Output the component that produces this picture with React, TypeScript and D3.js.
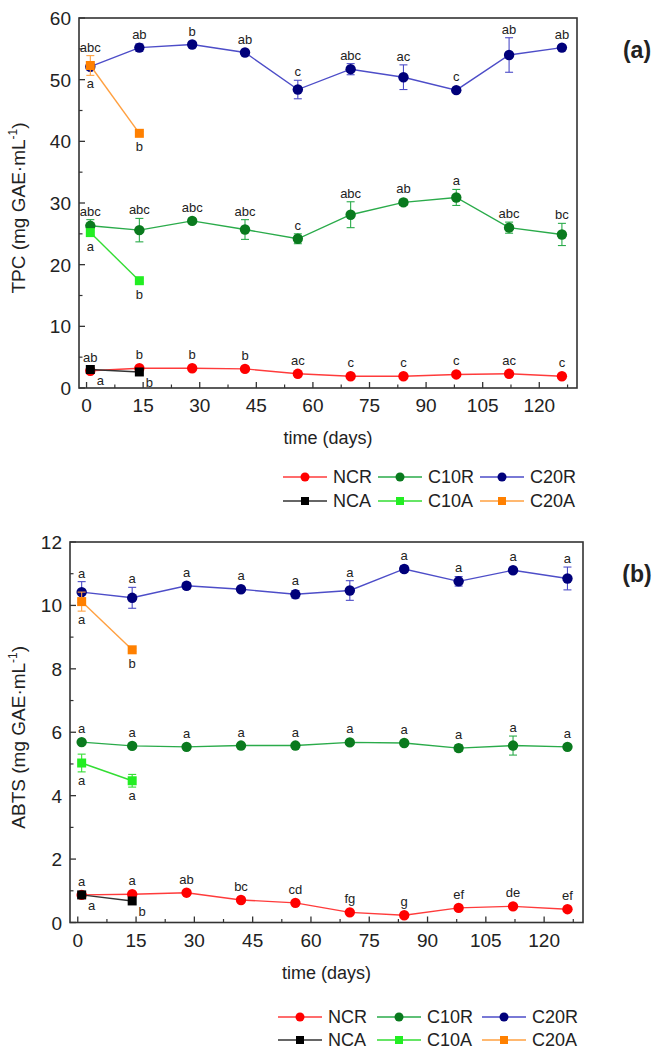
import * as React from 'react';
import * as d3 from 'd3';

// sampling days
const days = [1, 14, 28, 42, 56, 70, 84, 98, 112, 126];
const daysA = [1, 14];

const seriesNames = ['NCR', 'C10R', 'C20R', 'NCA', 'C10A', 'C20A'];

// TPC (mg GAE/mL)
const tpcNCR = [2.8, 3.2, 3.2, 3.1, 2.3, 1.9, 1.9, 2.2, 2.3, 1.9];
const tpcNCRsd = [0.15, 0.15, 0.15, 0.15, 0.15, 0.1, 0.1, 0.15, 0.15, 0.1];
const tpcNCRlet = ['ab', 'b', 'b', 'b', 'ac', 'c', 'c', 'c', 'ac', 'c'];
const tpcC10R = [26.3, 25.6, 27.1, 25.7, 24.2, 28.1, 30.1, 30.9, 26.0, 24.9];
const tpcC10Rsd = [1.0, 1.9, 0.4, 1.6, 0.8, 2.1, 0.5, 1.3, 0.9, 1.8];
const tpcC10Rlet = ['abc', 'abc', 'abc', 'abc', 'c', 'abc', 'ab', 'a', 'abc', 'bc'];
const tpcC20R = [52.1, 55.2, 55.7, 54.4, 48.4, 51.7, 50.4, 48.3, 54.0, 55.2];
const tpcC20Rsd = [0.5, 0.6, 0.4, 0.3, 1.5, 0.9, 2.0, 0.3, 2.8, 0.3];
const tpcC20Rlet = ['abc', 'ab', 'b', 'ab', 'c', 'abc', 'ac', 'c', 'ab', 'ab'];
const tpcNCA = [3.0, 2.6];
const tpcNCAsd = [0.1, 0.1];
const tpcNCAlet = ['a', 'b'];
const tpcC10A = [25.2, 17.4];
const tpcC10Asd = [0.4, 0.3];
const tpcC10Alet = ['a', 'b'];
const tpcC20A = [52.3, 41.3];
const tpcC20Asd = [1.6, 0.3];
const tpcC20Alet = ['a', 'b'];

// ABTS (mg GAE/mL)
const abtsNCR = [0.87, 0.89, 0.94, 0.71, 0.62, 0.32, 0.23, 0.46, 0.51, 0.42];
const abtsNCRsd = [0.03, 0.03, 0.03, 0.03, 0.03, 0.03, 0.03, 0.03, 0.03, 0.03];
const abtsNCRlet = ['a', 'a', 'ab', 'bc', 'cd', 'fg', 'g', 'ef', 'de', 'ef'];
const abtsC10R = [5.69, 5.57, 5.54, 5.58, 5.58, 5.68, 5.66, 5.50, 5.58, 5.54];
const abtsC10Rsd = [0.05, 0.05, 0.05, 0.05, 0.05, 0.05, 0.05, 0.1, 0.3, 0.06];
const abtsC10Rlet = ['a', 'a', 'a', 'a', 'a', 'a', 'a', 'a', 'a', 'a'];
const abtsC20R = [10.42, 10.24, 10.62, 10.51, 10.35, 10.47, 11.15, 10.76, 11.11, 10.85];
const abtsC20Rsd = [0.33, 0.33, 0.1, 0.06, 0.12, 0.31, 0.1, 0.15, 0.06, 0.36];
const abtsC20Rlet = ['a', 'a', 'a', 'a', 'a', 'a', 'a', 'a', 'a', 'a'];
const abtsNCA = [0.87, 0.68];
const abtsNCAsd = [0.03, 0.03];
const abtsNCAlet = ['a', 'b'];
const abtsC10A = [5.03, 4.47];
const abtsC10Asd = [0.28, 0.2];
const abtsC10Alet = ['a', 'a'];
const abtsC20A = [10.12, 8.6];
const abtsC20Asd = [0.3, 0.05];
const abtsC20Alet = ['a', 'b'];

const FONT = '"Liberation Sans", Arial, sans-serif';

const style: Record<string, { marker: string; line: string; shape: 'circle' | 'square'; pos: 'above' | 'below' | 'right' }> = {
    NCR: { marker: '#ff0000', line: '#ff3b3b', shape: 'circle', pos: 'above' },
    C10R: { marker: '#0a7a1e', line: '#2aab4a', shape: 'circle', pos: 'above' },
    C20R: { marker: '#00007a', line: '#4d4dc8', shape: 'circle', pos: 'above' },
    NCA: { marker: '#000000', line: '#333333', shape: 'square', pos: 'right' },
    C10A: { marker: '#22ee22', line: '#33dd33', shape: 'square', pos: 'below' },
    C20A: { marker: '#ff8000', line: '#ffa040', shape: 'square', pos: 'below' },
};

type Series = { name: string; x: number[]; y: number[]; sd: number[]; lab: string[] };

const tpcSeries: Series[] = [
    { name: 'NCR', x: days, y: tpcNCR, sd: tpcNCRsd, lab: tpcNCRlet },
    { name: 'C10R', x: days, y: tpcC10R, sd: tpcC10Rsd, lab: tpcC10Rlet },
    { name: 'C20R', x: days, y: tpcC20R, sd: tpcC20Rsd, lab: tpcC20Rlet },
    { name: 'NCA', x: daysA, y: tpcNCA, sd: tpcNCAsd, lab: tpcNCAlet },
    { name: 'C10A', x: daysA, y: tpcC10A, sd: tpcC10Asd, lab: tpcC10Alet },
    { name: 'C20A', x: daysA, y: tpcC20A, sd: tpcC20Asd, lab: tpcC20Alet },
];

const abtsSeries: Series[] = [
    { name: 'NCR', x: days, y: abtsNCR, sd: abtsNCRsd, lab: abtsNCRlet },
    { name: 'C10R', x: days, y: abtsC10R, sd: abtsC10Rsd, lab: abtsC10Rlet },
    { name: 'C20R', x: days, y: abtsC20R, sd: abtsC20Rsd, lab: abtsC20Rlet },
    { name: 'NCA', x: daysA, y: abtsNCA, sd: abtsNCAsd, lab: abtsNCAlet },
    { name: 'C10A', x: daysA, y: abtsC10A, sd: abtsC10Asd, lab: abtsC10Alet },
    { name: 'C20A', x: daysA, y: abtsC20A, sd: abtsC20Asd, lab: abtsC20Alet },
];

interface PanelCfg {
    left: number; right: number; top: number; bottom: number;
    yMax: number; yStep: number;
    yTitle: string; tag: string;
    series: Series[];
    legendX: number[]; legendY: number[];
}

const panels: PanelCfg[] = [
    {
        left: 79, right: 577, top: 18, bottom: 388, yMax: 60, yStep: 10,
        yTitle: 'TPC', tag: '(a)', series: tpcSeries,
        legendX: [283, 378, 480], legendY: [483, 507],
    },
    {
        left: 70, right: 583, top: 542, bottom: 922.5, yMax: 12, yStep: 2,
        yTitle: 'ABTS', tag: '(b)', series: abtsSeries,
        legendX: [278, 377, 482], legendY: [1023, 1046],
    },
];

function drawPanel(root: d3.Selection<SVGSVGElement, unknown, null, undefined>, p: PanelCfg) {
    const g = root.append('g');
    const x = d3.scaleLinear().domain([-2, 130]).range([p.left, p.right]);
    const y = d3.scaleLinear().domain([0, p.yMax]).range([p.bottom, p.top]);

    // frame
    g.append('rect')
        .attr('x', p.left).attr('y', p.top)
        .attr('width', p.right - p.left).attr('height', p.bottom - p.top)
        .attr('fill', 'none').attr('stroke', '#333').attr('stroke-width', 1.6);

    // y ticks (inward)
    const yMajor = d3.range(0, p.yMax + 0.001, p.yStep);
    const yMinor = d3.range(p.yStep / 2, p.yMax, p.yStep);
    yMajor.forEach(v => {
        g.append('line').attr('x1', p.left).attr('x2', p.left + 6)
            .attr('y1', y(v)).attr('y2', y(v)).attr('stroke', '#333').attr('stroke-width', 1.3);
        g.append('text').attr('x', p.left - 8).attr('y', y(v) + 7)
            .attr('text-anchor', 'end').attr('font-size', 19).attr('font-family', FONT)
            .attr('fill', '#222').text(d3.format('d')(v));
    });
    yMinor.forEach(v => {
        g.append('line').attr('x1', p.left).attr('x2', p.left + 3.5)
            .attr('y1', y(v)).attr('y2', y(v)).attr('stroke', '#333').attr('stroke-width', 1.2);
    });

    // x ticks (inward)
    d3.range(0, 121, 15).forEach(v => {
        g.append('line').attr('x1', x(v)).attr('x2', x(v))
            .attr('y1', p.bottom).attr('y2', p.bottom - 6).attr('stroke', '#333').attr('stroke-width', 1.3);
        g.append('text').attr('x', x(v)).attr('y', p.bottom + 24)
            .attr('text-anchor', 'middle').attr('font-size', 19).attr('font-family', FONT)
            .attr('fill', '#222').text(v);
    });
    d3.range(7.5, 130, 15).forEach(v => {
        g.append('line').attr('x1', x(v)).attr('x2', x(v))
            .attr('y1', p.bottom).attr('y2', p.bottom - 3.5).attr('stroke', '#333').attr('stroke-width', 1.2);
    });

    // axis titles
    g.append('text').attr('x', (p.left + p.right) / 2).attr('y', p.bottom + 56)
        .attr('text-anchor', 'middle').attr('font-size', 18).attr('font-family', FONT)
        .attr('fill', '#222').text('time (days)');

    const yt = g.append('text')
        .attr('transform', `translate(25,${(p.top + p.bottom) / 2 + 5}) rotate(-90)`)
        .attr('text-anchor', 'middle').attr('font-size', 19).attr('font-family', FONT).attr('fill', '#222');
    yt.append('tspan').text(`${p.yTitle} (mg GAE·mL`);
    yt.append('tspan').attr('font-size', 12).attr('dy', -8).text('-1');
    yt.append('tspan').attr('dy', 8).text(')');

    g.append('text').attr('x', 637).attr('y', p.top + 40)
        .attr('text-anchor', 'middle').attr('font-size', 23).attr('font-weight', 'bold')
        .attr('font-family', FONT).attr('fill', '#222').text(p.tag);

    const line = d3.line<[number, number]>().x(d => x(d[0])).y(d => y(d[1]));

    // pixel extents of every point, used to place the letters clear of bars
    const pts = p.series.flatMap(s => s.x.map((d, i) => ({
        day: d, py: y(s.y[i]), top: y(s.y[i] + s.sd[i]), bot: y(s.y[i] - s.sd[i]),
    })));

    p.series.forEach(s => {
        const st = style[s.name];
        const data = s.x.map((d, i) => [d, s.y[i]] as [number, number]);
        g.append('path').attr('d', line(data)!).attr('fill', 'none')
            .attr('stroke', st.line).attr('stroke-width', 1.4);

        s.x.forEach((d, i) => {
            const cx = x(d);
            const y0 = y(s.y[i] - s.sd[i]);
            const y1 = y(s.y[i] + s.sd[i]);
            if (y0 - y1 > 2) {
                const eg = g.append('g').attr('stroke', st.line).attr('stroke-width', 1.1);
                eg.append('line').attr('x1', cx).attr('x2', cx).attr('y1', y0).attr('y2', y1);
                eg.append('line').attr('x1', cx - 4).attr('x2', cx + 4).attr('y1', y0).attr('y2', y0);
                eg.append('line').attr('x1', cx - 4).attr('x2', cx + 4).attr('y1', y1).attr('y2', y1);
            }
        });

        s.x.forEach((d, i) => {
            const cx = x(d), cy = y(s.y[i]);
            if (st.shape === 'circle') {
                g.append('circle').attr('cx', cx).attr('cy', cy).attr('r', 5.2).attr('fill', st.marker);
            } else {
                g.append('rect').attr('x', cx - 4.5).attr('y', cy - 4.5)
                    .attr('width', 9).attr('height', 9).attr('fill', st.marker);
            }
        });

        s.x.forEach((d, i) => {
            const cx = x(d), cy = y(s.y[i]);
            const near = pts.filter(q => q.day === d && Math.abs(q.py - cy) < 20);
            let tx = cx, ty = cy;
            if (st.pos === 'above') {
                ty = Math.min(d3.min(near, q => q.top)!, cy - 5) - 4;
            } else if (st.pos === 'below') {
                ty = Math.max(d3.max(near, q => q.bot)!, cy + 5) + 13;
            } else {
                tx = cx + 10; ty = cy + 15;
            }
            g.append('text').attr('x', tx).attr('y', ty)
                .attr('text-anchor', 'middle').attr('font-size', 13).attr('font-family', FONT)
                .attr('fill', '#222').text(s.lab[i]);
        });
    });

    // legend, two rows of three
    seriesNames.forEach((name, k) => {
        const st = style[name];
        const lx = p.legendX[k % 3];
        const ly = p.legendY[Math.floor(k / 3)];
        const cy = ly - 6;
        g.append('line').attr('x1', lx).attr('x2', lx + 44).attr('y1', cy).attr('y2', cy)
            .attr('stroke', st.line).attr('stroke-width', 1.4);
        if (st.shape === 'circle') {
            g.append('circle').attr('cx', lx + 22).attr('cy', cy).attr('r', 4.5).attr('fill', st.marker);
        } else {
            g.append('rect').attr('x', lx + 18).attr('y', cy - 4).attr('width', 8).attr('height', 8).attr('fill', st.marker);
        }
        g.append('text').attr('x', lx + 50).attr('y', ly)
            .attr('font-size', 18).attr('font-family', FONT).attr('fill', '#222').text(name);
    });
}

const App: React.FC = () => {
    const ref = React.useRef<SVGSVGElement>(null);

    React.useEffect(() => {
        document.body.style.margin = '0';
        const svg = d3.select(ref.current!);
        svg.selectAll('*').remove();
        panels.forEach(p => drawPanel(svg, p));
    }, []);

    return (
        <svg ref={ref} width={655} height={1055} style={{ display: 'block', background: '#fff' }} />
    );
};

export default App;
